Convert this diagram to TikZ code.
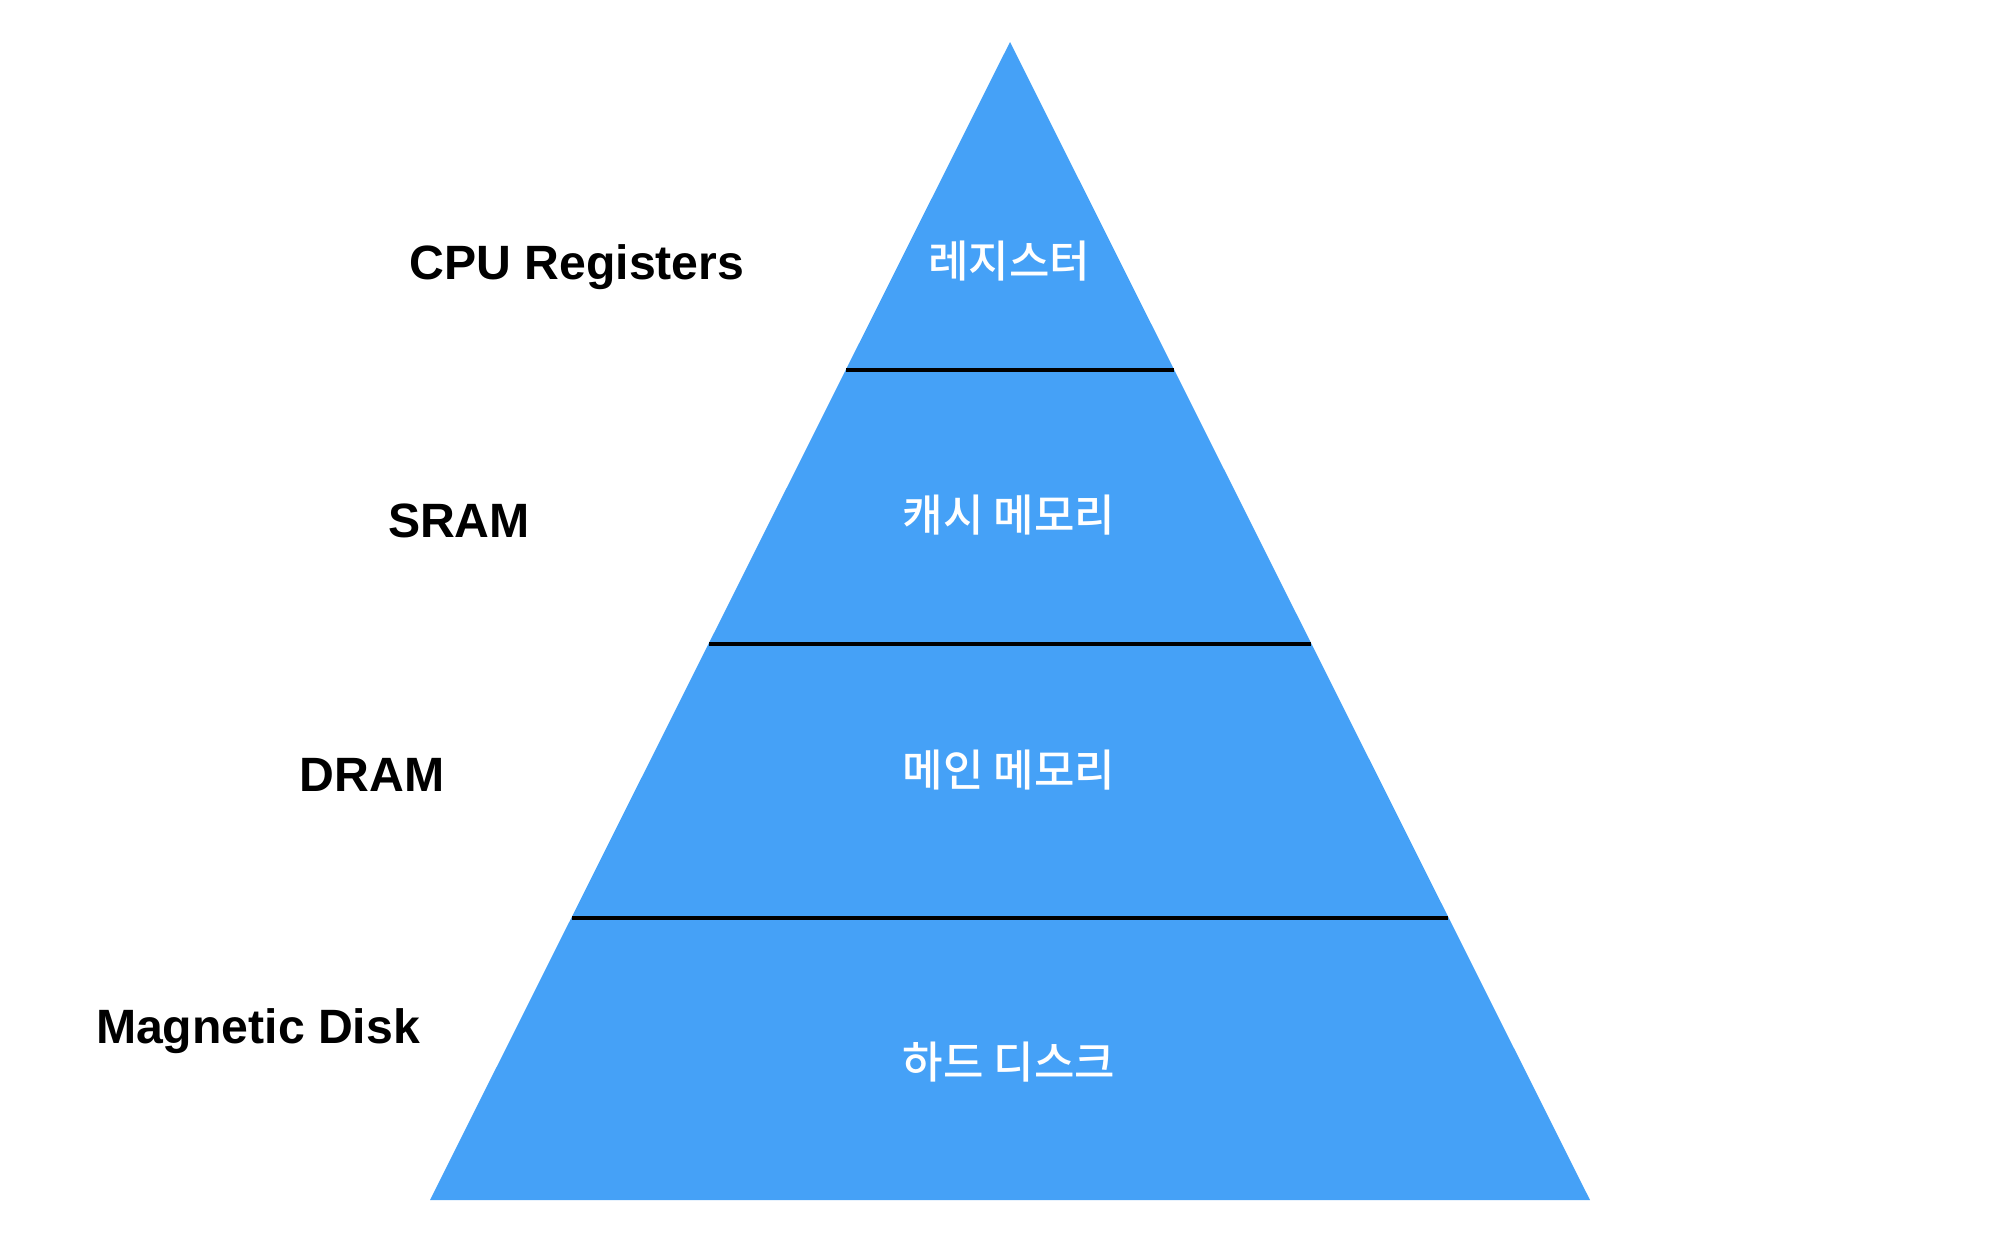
\documentclass[tikz,border=0pt]{standalone}
\usepackage{fontspec}
\setmainfont{Liberation Sans}
\newfontfamily\kr{Noto Sans CJK KR Medium}
\definecolor{pyrblue}{RGB}{69,161,247}
\begin{document}
\begin{tikzpicture}[x=0.01cm,y=-0.01cm,line join=round]
			\tikzset{lvl/.style={font=\fontsize{12.5}{14}\kr,text=white,inner sep=0pt},
				mem/.style={font=\fontsize{13.7}{16}\selectfont\bfseries,inner sep=0pt}}
			\useasboundingbox (0,0) rectangle (2008,1254);
			% pyramid
			\fill[pyrblue] (1010,42)--(1590,1200)--(430,1200)--cycle;
			\draw[line width=0.04cm] (846,370)--(1174,370);
			\draw[line width=0.04cm] (709,644)--(1311,644);
			\draw[line width=0.04cm] (572,918)--(1448,918);
			% levels
			\node[lvl] (reg) at (1009,261) {레지스터};
			\node[lvl] (cache) at (1009,515) {캐시 메모리};
			\node[lvl] (main) at (1009,770) {메인 메모리};
			\node[lvl] (hdd) at (1009,1062) {하드 디스크};
			% names
			\node[mem] (cpu) at (577,267) {CPU Registers};
			\node[mem] (sram) at (459,521) {SRAM};
			\node[mem] (dram) at (372,775) {DRAM};
			\node[mem] (disk) at (258,1031) {Magnetic Disk};
		\end{tikzpicture}
\end{document}
